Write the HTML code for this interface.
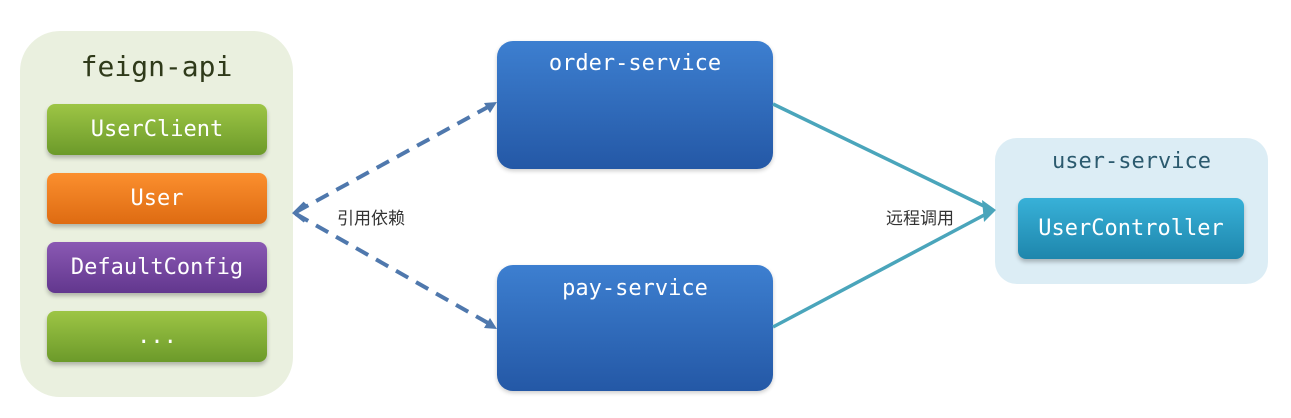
<!DOCTYPE html>
<html><head><meta charset="utf-8"><style>
body{margin:0;width:1291px;height:418px;background:#fff;position:relative;overflow:hidden;font-family:"DejaVu Sans Mono","Liberation Mono",monospace}
.a{position:absolute;box-sizing:border-box}
.item{position:absolute;left:47px;width:220px;height:51px;border-radius:8px;color:#fff;font-size:22px;text-align:center;line-height:51px;box-shadow:0 3px 4px rgba(0,0,0,.25)}
.g{background:linear-gradient(#9dc545,#6c9a2a)}
.svc{position:absolute;box-sizing:border-box;left:497px;width:276px;border-radius:16px;background:linear-gradient(#3d7fd0,#2458a6);color:#fff;font-size:22px;text-align:center;box-shadow:0 2px 4px rgba(0,0,0,.2)}
.cn{position:absolute;font-family:"Liberation Sans","Noto Sans CJK SC",sans-serif;font-size:17px;color:#333}
</style></head><body>
<div class="a" style="left:20px;top:31px;width:273px;height:366px;border-radius:40px;background:#eaf0df"></div>
<div class="a" style="left:20px;top:50px;width:273px;text-align:center;font-size:28px;color:#2f3a1a">feign-api</div>
<div class="item g" style="top:104px">UserClient</div>
<div class="item" style="top:173px;background:linear-gradient(#fb8f2e,#de6b12)">User</div>
<div class="item" style="top:242px;background:linear-gradient(#8a59b3,#62378e)">DefaultConfig</div>
<div class="item g" style="top:311px">...</div>
<div class="svc" style="top:41px;height:128px;padding-top:10px">order-service</div>
<div class="svc" style="top:265px;height:126px;padding-top:11px">pay-service</div>
<div class="a" style="left:995px;top:138px;width:273px;height:146px;border-radius:22px;background:#dcedf5"></div>
<div class="a" style="left:995px;top:149px;width:273px;text-align:center;font-size:22px;color:#2b5a6e">user-service</div>
<div class="a" style="left:1018px;top:198px;width:226px;height:61px;border-radius:8px;background:linear-gradient(#38b1d8,#1e86ac);color:#fff;font-size:22px;text-align:center;line-height:61px;box-shadow:0 3px 4px rgba(0,0,0,.25)">UserController</div>
<svg class="a" style="left:0;top:0" width="1291" height="418">
<g stroke="#4f78ad" stroke-width="4" stroke-dasharray="14,9" fill="none">
<line x1="296" y1="212" x2="488" y2="107"/>
<line x1="296" y1="214" x2="488" y2="323"/>
</g>
<polyline points="305,203 295,213 305,221" fill="none" stroke="#4f78ad" stroke-width="4"/>
<polygon points="497,102 484,103 490,113" fill="#4f78ad"/>
<polygon points="497,329 484,328 490,318" fill="#4f78ad"/>
<g stroke="#4aa5bb" stroke-width="3.5"><line x1="773" y1="104" x2="988" y2="208"/><line x1="773" y1="327" x2="988" y2="213"/></g>
<polygon points="996,210 982,200 984,222" fill="#4aa5bb"/>
</svg>
<div class="cn" style="left:337px;top:204px">引用依赖</div>
<div class="cn" style="left:886px;top:204px">远程调用</div>
</body></html>
